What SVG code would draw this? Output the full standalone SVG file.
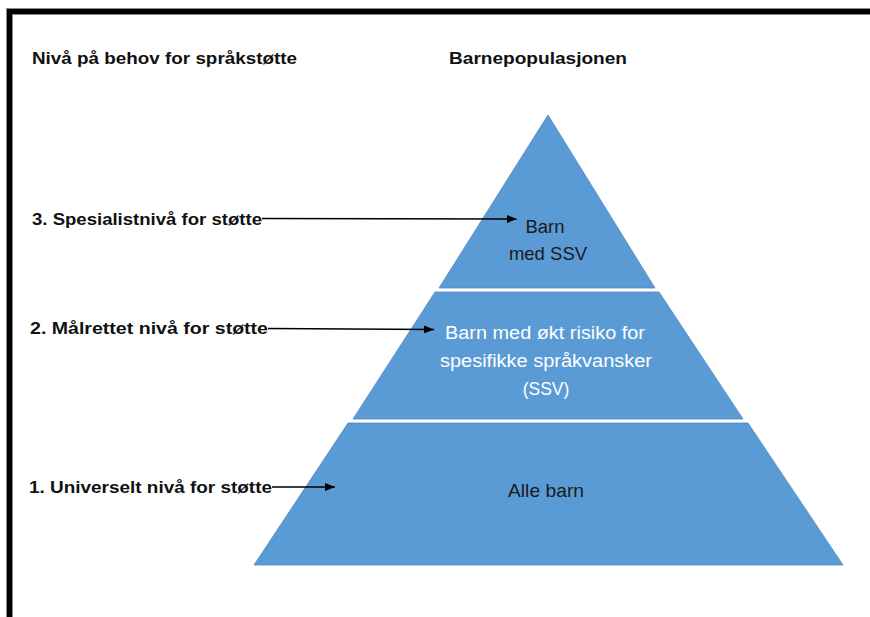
<svg xmlns="http://www.w3.org/2000/svg" width="870" height="617" viewBox="0 0 870 617">
  <style>
    .hdr { font-family: "Liberation Sans", Arial, sans-serif; font-weight: bold; font-size: 17px; fill: #111; }
    .lvl { font-family: "Liberation Sans", Arial, sans-serif; font-weight: bold; font-size: 17px; fill: #111; }
    .inner { font-family: "Liberation Sans", Arial, sans-serif; font-size: 18.5px; fill: #1a1a1a; }
    .innerw { font-family: "Liberation Sans", Arial, sans-serif; font-size: 17.5px; fill: #ffffff; }
    .tier { fill: #5B9BD5; stroke: #4f88c0; stroke-width: 0.8; }
    .conn { stroke: #000; stroke-width: 1.5; fill: none; marker-end: url(#arrow); }
  </style>
  <defs>
    <marker id="arrow" markerWidth="10" markerHeight="8" refX="10" refY="4" orient="auto" markerUnits="userSpaceOnUse">
      <path d="M0,0 L10,4 L0,8 Z" fill="#000"/>
    </marker>
  </defs>
  <rect width="870" height="617" fill="#ffffff"/>
  <g id="frame">
    <path d="M9.5,617 V11.5 H870" fill="none" stroke="#8a8a8a" stroke-width="7"/>
    <path d="M9.5,617 V11.5 H870" fill="none" stroke="#000" stroke-width="5"/>
  </g>
  <g id="headers">
    <text class="hdr" x="32" y="64" textLength="265" lengthAdjust="spacingAndGlyphs">Nivå på behov for språkstøtte</text>
    <text class="hdr" x="449" y="64" textLength="178" lengthAdjust="spacingAndGlyphs">Barnepopulasjonen</text>
  </g>
  <g id="tier-top">
    <polygon class="tier" points="548,115 655,288 439,288"/>
    <text class="inner" x="545" y="233" text-anchor="middle">Barn</text>
    <text class="inner" x="548" y="260" text-anchor="middle">med SSV</text>
  </g>
  <g id="tier-middle">
    <polygon class="tier" points="435,292 659,292 743,419 353,419"/>
    <text class="innerw" x="445" y="339" textLength="200" lengthAdjust="spacingAndGlyphs">Barn med økt risiko for</text>
    <text class="innerw" x="440" y="367" textLength="212" lengthAdjust="spacingAndGlyphs">spesifikke språkvansker</text>
    <text class="innerw" x="546" y="395" text-anchor="middle">(SSV)</text>
  </g>
  <g id="tier-bottom">
    <polygon class="tier" points="348,423 748,423 843,565 254,565"/>
    <text class="inner" x="546" y="497" text-anchor="middle" textLength="76" lengthAdjust="spacingAndGlyphs">Alle barn</text>
  </g>
  <g id="level-3">
    <text class="lvl" x="32" y="225" textLength="230" lengthAdjust="spacingAndGlyphs">3. Spesialistnivå for støtte</text>
  </g>
  <g id="level-2">
    <text class="lvl" x="30" y="334" textLength="238" lengthAdjust="spacingAndGlyphs">2. Målrettet nivå for støtte</text>
  </g>
  <g id="level-1">
    <text class="lvl" x="29" y="493" textLength="243" lengthAdjust="spacingAndGlyphs">1. Universelt nivå for støtte</text>
  </g>
  <g id="connectors">
    <line class="conn" x1="262" y1="218.5" x2="517" y2="219"/>
    <line class="conn" x1="268" y1="328.5" x2="434" y2="329.5"/>
    <line class="conn" x1="272" y1="487" x2="335" y2="487"/>
  </g>
</svg>
